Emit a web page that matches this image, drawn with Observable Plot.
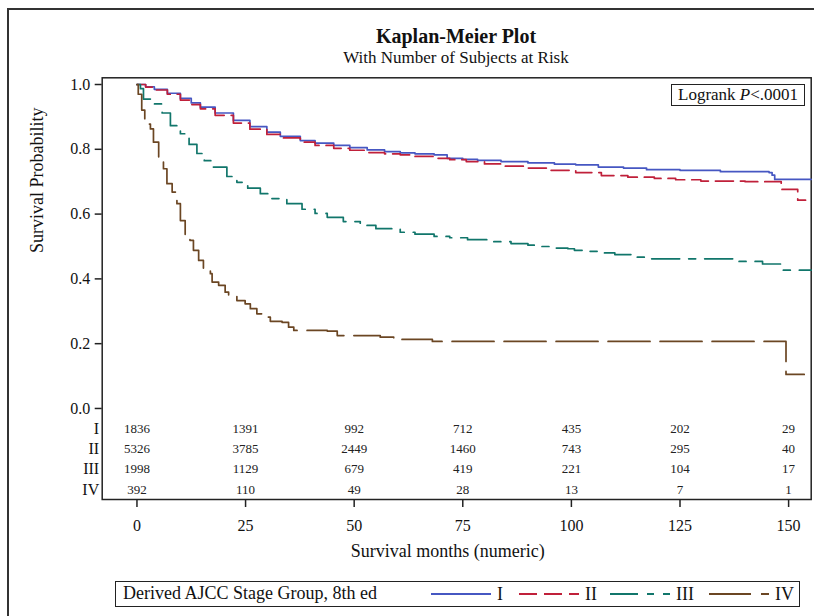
<!DOCTYPE html>
<html><head><meta charset="utf-8">
<script src="https://cdn.jsdelivr.net/npm/d3@7"></script>
<script src="https://cdn.jsdelivr.net/npm/@observablehq/plot@0.6"></script>
<style>
body{margin:0;background:#fff;font-family:"Liberation Serif","Times New Roman",serif;color:#111}
#wrap{position:relative;width:814px;height:616px;overflow:hidden;background:#fff}
#outer{position:absolute;left:7px;top:8px;width:900px;height:700px;border-left:2px solid #333;border-top:2px solid #333;box-sizing:border-box}
#title{position:absolute;left:0;width:912px;top:25px;text-align:center;font-weight:bold;font-size:20px}
#subtitle{position:absolute;left:0;width:912px;top:48px;text-align:center;font-size:17px}
#chart{position:absolute;left:0;top:0}
#logrank{position:absolute;left:671px;top:84px;width:134px;height:22px;border:1.5px solid #222;box-sizing:border-box;font-size:17px;line-height:19px;padding-left:6px;background:#fff}
#legend{position:absolute;left:115px;top:581px;width:685px;height:26px;border:1.5px solid #222;box-sizing:border-box;font-size:18px;background:#fff}
#legend .lt{position:absolute;left:7px;top:1px;white-space:nowrap}
#legend svg{position:absolute;left:0;top:0}
</style></head>
<body>
<div id="wrap">
  <div id="outer"></div>
  <div id="chart"></div>
  <div id="title">Kaplan-Meier Plot</div>
  <div id="subtitle">With Number of Subjects at Risk</div>
  <div id="logrank">Logrank <i>P</i>&lt;.0001</div>
  <div id="legend"><span class="lt">Derived AJCC Stage Group, 8th ed</span></div>
</div>
<script>
// ---- data ----
const groups = ["I", "II", "III", "IV"];
const colors = ["#4657c2", "#c0203a", "#11766b", "#6b4623"];
const dashes = ["none", "18,7", "28,9,7,9", "42,10"];

const timesI = [0,2,4,7,10,12.5,14.6,18,22.2,26,29.9,33,37.6,41,45.3,49,53,57,60.6,64,68.4,71.4,75,78.4,83.8,90,96.1,101,106.2,112,117.3,125,134.3,145.5,146.2,146.8,155.2];
const survI  = [1,0.993,0.985,0.973,0.957,0.943,0.930,0.912,0.889,0.870,0.853,0.840,0.827,0.819,0.812,0.805,0.798,0.793,0.789,0.786,0.783,0.772,0.769,0.766,0.762,0.758,0.754,0.752,0.745,0.742,0.737,0.735,0.731,0.728,0.720,0.707,0.707];

const timesII = [0,2,4,7,10,12.5,14.6,18,22.2,26,29.9,33,37.6,41,45.3,49,53,57,60.6,64,68.4,72,75.8,80,83.8,90,95.3,101,106.9,113,119.1,124,129.8,140,148.3,152.1,153.9];
const survII  = [1,0.992,0.983,0.970,0.952,0.938,0.925,0.905,0.881,0.862,0.846,0.835,0.822,0.812,0.803,0.797,0.790,0.786,0.783,0.778,0.772,0.768,0.762,0.755,0.748,0.742,0.735,0.728,0.719,0.714,0.710,0.706,0.702,0.700,0.676,0.643,0.643];

const timesIII = [0,0.8,1.5,3.8,5.8,7.7,10,12,13.8,15.5,17.6,20.7,23,25.5,28.4,31,34.5,38,41,43.8,47.5,51.4,55,60.6,64,68.4,72,76.1,81,86.1,90,93,96.1,99.2,100.7,103.8,107,110,114.6,118,138.6,144,148.6,155.2];
const survIII  = [1,0.987,0.955,0.940,0.912,0.873,0.848,0.815,0.787,0.765,0.745,0.716,0.698,0.680,0.663,0.648,0.632,0.615,0.602,0.590,0.577,0.565,0.555,0.544,0.538,0.531,0.527,0.521,0.515,0.509,0.504,0.500,0.495,0.493,0.488,0.485,0.480,0.475,0.467,0.462,0.454,0.446,0.427,0.427];

const timesIV = [0,0.3,1.1,1.8,2.3,3.1,3.8,5.0,6.1,6.9,8.1,9.2,10.0,11.1,12.2,13.0,14.2,15.3,16.9,17.3,18.8,20.3,21.1,23.0,24.9,26.1,27.6,28.8,30.7,33.4,34.9,36.1,43.8,46.1,56.0,59.1,68.0,149.4,153.6];
const survIV  = [1,0.970,0.921,0.894,0.878,0.863,0.822,0.776,0.740,0.694,0.668,0.632,0.580,0.534,0.519,0.488,0.457,0.433,0.416,0.390,0.380,0.359,0.346,0.333,0.323,0.308,0.292,0.282,0.269,0.266,0.251,0.241,0.239,0.225,0.220,0.213,0.207,0.105,0.105];

const riskTimes = [0, 25, 50, 75, 100, 125, 150];
const riskI   = [1836, 1391, 992, 712, 435, 202, 29];
const riskII  = [5326, 3785, 2449, 1460, 743, 295, 40];
const riskIII = [1998, 1129, 679, 419, 221, 104, 17];
const riskIV  = [392, 110, 49, 28, 13, 7, 1];

const xTicks = [0, 25, 50, 75, 100, 125, 150];
const yTicks = [0, 0.2, 0.4, 0.6, 0.8, 1.0];

// ---- build tables ----
const seriesTimes = [timesI, timesII, timesIII, timesIV];
const seriesSurv = [survI, survII, survIII, survIV];
const riskRows = [riskI, riskII, riskIII, riskIV];

const curves = groups.flatMap((g, k) => seriesTimes[k].map((t, i) => ({group: g, t, s: seriesSurv[k][i]})));
const rowY = k => -0.0625 * (k + 1); // at-risk rows below the 0 line
const risk = groups.flatMap((g, k) => riskTimes.map((t, i) => ({group: g, k, t, n: riskRows[k][i]})));
const rowLabels = groups.map((g, k) => ({group: g, k}));

const serif = "Liberation Serif, Times New Roman, serif";

const marks = [
  Plot.frame({stroke: "#222", strokeWidth: 1.5}),
  Plot.axisX({ticks: xTicks, tickSize: 8, tickPadding: 12, label: null, fontSize: 16, fontFamily: serif, stroke: "#222", strokeWidth: 1.5}),
  Plot.axisY({ticks: yTicks, tickSize: 7, tickPadding: 5, label: null, tickFormat: d3.format(".1f"), fontSize: 16, fontFamily: serif, stroke: "#222", strokeWidth: 1.5}),
  ...groups.map((g, k) => Plot.line(curves.filter(d => d.group === g), {
    x: "t", y: "s", curve: "step-after", stroke: colors[k], strokeWidth: 1.7,
    strokeDasharray: dashes[k] === "none" ? undefined : dashes[k]
  })),
  Plot.text(risk, {x: "t", y: d => rowY(d.k), text: d => String(d.n), fontSize: 13, fontFamily: serif, fill: "#222"}),
  Plot.text(rowLabels, {frameAnchor: "left", y: d => rowY(d.k), text: "group", textAnchor: "end", dx: -3, fontSize: 16, fontFamily: serif, fill: "#111"}),
  Plot.text(["Survival Probability"], {frameAnchor: "left", y: [0.48], text: d => d, rotate: -90, dx: -65, fontSize: 18, fontFamily: serif, fill: "#111"}),
  Plot.text(["Survival months (numeric)"], {frameAnchor: "bottom", text: d => d, dy: 57, dx: -9, fontSize: 18, fontFamily: serif, fill: "#111"})
];

const chart = Plot.plot({
  width: 814, height: 616,
  marginTop: 77.3, marginBottom: 117, marginLeft: 101.7, marginRight: 3.3,
  x: {domain: [-8, 155.2]},
  y: {domain: [-0.281, 1.0207]},
  style: {background: "transparent", fontFamily: serif, color: "#111"},
  marks
});
document.getElementById("chart").appendChild(chart);

// ---- legend ----
const leg = document.getElementById("legend");
const svgNS = "http://www.w3.org/2000/svg";
const lsvg = document.createElementNS(svgNS, "svg");
lsvg.setAttribute("width", 685); lsvg.setAttribute("height", 26);
const starts = [315, 403, 494, 593];
groups.forEach((g, k) => {
  const x0 = starts[k];
  const ln = document.createElementNS(svgNS, "line");
  ln.setAttribute("x1", x0); ln.setAttribute("x2", x0 + 60);
  ln.setAttribute("y1", 12); ln.setAttribute("y2", 12);
  ln.setAttribute("stroke", colors[k]); ln.setAttribute("stroke-width", 1.8);
  if (dashes[k] !== "none") ln.setAttribute("stroke-dasharray", dashes[k]);
  lsvg.appendChild(ln);
  const tx = document.createElementNS(svgNS, "text");
  tx.setAttribute("x", x0 + 66); tx.setAttribute("y", 18);
  tx.setAttribute("font-size", 18); tx.setAttribute("font-family", serif);
  tx.setAttribute("fill", "#111");
  tx.textContent = g;
  lsvg.appendChild(tx);
});
leg.appendChild(lsvg);
</script>
</body></html>
